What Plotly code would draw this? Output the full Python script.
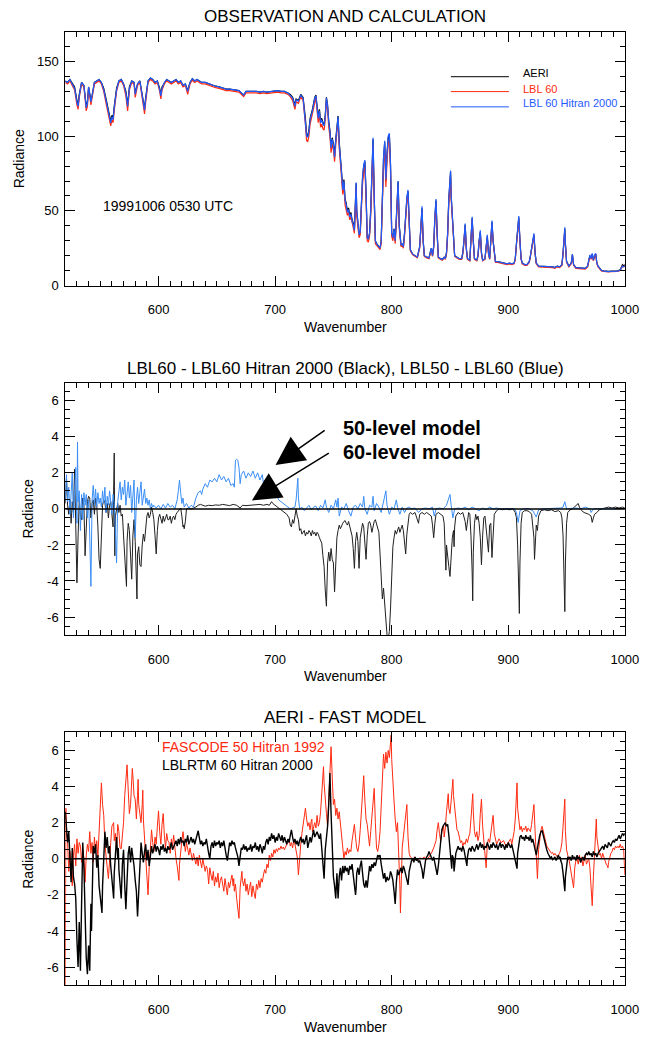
import plotly.graph_objects as go

# ---------------- Panel 1 : observation and calculation ----------------
P1_WN = [
    520, 522, 524, 526, 528, 530, 531, 532, 534, 536,
    538, 539, 540, 542, 543, 545, 547, 549, 551, 553,
    555, 557, 558, 559, 560, 561, 562, 564, 566, 568,
    570, 572, 573.5, 575, 577, 579, 580, 582, 584, 586,
    588, 589, 591, 593, 595, 597, 599, 601, 602, 603,
    605, 607, 609, 611, 613, 615, 617, 619, 621, 623,
    625, 627, 629, 631, 633, 635, 637, 640, 643, 646,
    649, 652, 655, 658, 661, 664, 667, 669, 671, 673,
    675, 678, 681, 684, 687, 690, 693, 696, 699, 702,
    705, 708, 711, 713, 715, 717, 718, 720, 722, 724,
    726, 727, 728, 729, 730, 732, 734, 735, 736, 737,
    738, 739, 740, 741, 742, 743, 744, 745, 746, 747,
    748, 749, 750, 751, 752, 753, 754, 755, 756, 757,
    758, 759, 760, 761, 762, 763, 764, 765, 766, 767,
    768, 769, 769.5, 770, 771, 772, 773, 774, 775, 776,
    777, 778, 779, 780, 781, 782, 783, 784, 785, 786,
    787, 788, 789, 790, 791, 792, 793, 794, 795, 796,
    797, 798, 799, 800, 801, 802, 803, 804, 805.5, 806.5,
    808, 809, 810, 811, 812, 813, 814, 815, 816, 818,
    820, 822, 824, 825, 826, 827, 828, 830, 832, 833,
    834, 835, 836, 837, 838, 839, 840, 842, 843.5, 845,
    846, 847, 848, 849, 850, 850.5, 851, 852, 853, 854,
    856, 858, 860, 861, 862, 863, 864, 865, 867, 868,
    869, 870, 871, 873, 874, 875, 876, 877, 878, 880,
    881, 882, 883, 884, 885, 886, 887, 888, 889, 891,
    893, 895, 897, 899, 901, 903, 905, 906, 907, 908,
    909, 910, 911, 912, 914, 916, 918, 919, 920, 921,
    922, 923, 924, 926, 928, 930, 932, 934, 936, 938,
    940, 942, 944, 946, 947, 948, 948.5, 949, 950, 952,
    954, 955, 956, 958, 960, 962, 964, 966, 968, 969,
    970, 971, 972, 973, 974, 975, 976, 977, 978, 980,
    982, 984, 986, 988, 990, 992, 994, 996, 997, 998,
    999, 1000,
]
P1_AERI = [
    137, 136, 138, 135, 133, 124, 121, 128, 136, 134,
    120, 123, 133, 124, 127, 136, 137, 138, 136, 132,
    125, 118, 113, 110, 114, 112, 120, 132, 137, 138,
    135, 130, 121, 133, 137, 136, 129, 135, 137, 128,
    118.5, 126, 137, 139, 138, 136, 137, 132, 127.8, 133,
    136, 138, 137, 136, 137, 138, 136, 137, 134, 135,
    130.7, 136, 138.5, 137, 138, 137, 136, 136, 135, 134,
    133.5, 133, 132, 131.5, 131.5, 131, 131, 130.5, 129, 127.5,
    130, 130, 130.5, 130, 129.5, 130, 129.5, 130, 130, 130.5,
    130, 130, 129, 128, 126, 121, 125, 124, 128, 126,
    112, 101, 100.5, 104, 112, 118, 126, 127.5, 120, 113,
    118, 110, 112, 109, 108, 114, 126, 121, 110, 104,
    93, 99, 95, 87, 98, 108, 113.6, 96, 82, 76,
    65, 71, 58, 55, 50, 52, 47, 49, 44, 42,
    38, 55, 68.5, 50, 40, 34, 36, 60, 72, 80,
    83, 62, 32, 31, 35, 50, 78, 98, 60, 30,
    28, 27, 26, 25, 30, 60, 85, 96, 70, 88,
    99, 101, 80, 35, 32, 38, 30, 45, 69.6, 40,
    27, 28, 26, 35, 50, 58, 63, 35, 24, 21,
    20, 19, 26, 38, 51.8, 30, 20, 19, 18.5, 22,
    25, 20, 26, 45, 57, 35, 19, 18, 17.5, 19,
    18, 22, 35, 58, 70, 76, 60, 44, 30, 20,
    19, 18, 18, 22, 30, 40.7, 25, 18, 17, 28,
    45, 30, 18, 17, 20, 30, 36, 22, 17, 18,
    25, 33, 22, 18, 30, 42.5, 30, 20, 16, 16,
    15.5, 15, 15, 14.5, 15, 14.5, 15, 18, 28, 38,
    45.6, 30, 18, 15, 14, 14, 16, 20, 25, 30,
    34, 22, 15, 13, 13, 12.5, 13, 12.5, 13, 12.5,
    12, 13, 12.5, 14, 22, 32, 38, 28, 16, 13,
    15, 20.7, 14, 12, 12, 11.5, 12, 11.5, 13, 16,
    20, 18, 21, 17, 20, 21, 15, 13, 12, 10,
    9.8, 9.5, 9.5, 9.6, 9.7, 9.5, 9.8, 10.5, 12, 14,
    13, 14,
]
P1_LBL60 = [
    136, 135, 137, 134, 131, 121, 118, 126, 135, 133,
    117, 120, 132, 121, 125, 135, 136, 137, 135, 130,
    122, 115, 110, 107, 111, 109, 117, 130, 136, 137,
    134, 127, 117, 131, 136, 135, 126, 134, 136, 125,
    115, 123, 136, 138, 137, 135, 136, 130, 125, 131,
    135, 137, 136, 135, 136, 137, 135, 136, 133, 134,
    128, 135, 137.5, 136, 137, 136, 135, 135, 134, 133,
    132.5, 132, 131, 130.5, 130.5, 130, 130, 129.5, 128, 126.5,
    129, 129, 129.5, 129, 128.5, 129, 128.5, 129, 129, 129.5,
    129, 129, 128, 126.5, 124, 118, 123, 122, 126.5, 124,
    108, 97, 96.5, 100, 108, 115, 124, 126, 117, 109,
    115, 106, 108, 105, 104, 111, 124, 118, 106, 100,
    89, 95, 91, 83, 94, 104, 111, 92, 78, 72,
    61, 67, 54, 51, 47, 49, 44, 46, 41, 39,
    35, 52, 65, 47, 38, 32, 34, 56, 68, 76,
    79, 58, 30, 29, 33, 47, 74, 94, 56, 28,
    27, 26, 25, 24, 28, 56, 81, 92, 66, 84,
    95, 97, 76, 33, 30, 36, 28, 43, 66, 38,
    26, 27, 25, 33, 48, 56, 60, 33, 23, 20.5,
    19.5, 18.5, 25, 37, 50, 29, 19.5, 18.5, 18, 21,
    24, 19.5, 25, 43, 55, 34, 18.5, 17.5, 17, 18.5,
    17.5, 21, 34, 56, 68, 73, 58, 43, 29, 19.5,
    18.5, 17.5, 17.5, 21, 29, 39.5, 24, 17.5, 16.5, 27,
    44, 29, 17.5, 16.5, 19.5, 29, 35, 21, 16.5, 17.5,
    24, 32, 21, 17.5, 29, 41, 29, 19.5, 15.5, 15.5,
    15, 14.5, 14.5, 14, 14.5, 14, 14.5, 17.5, 27, 37,
    44, 29, 17.5, 14.5, 13.5, 13.5, 15.5, 19.5, 24, 29,
    33, 21, 14.5, 12.5, 12.5, 12, 12.5, 12, 12.5, 12,
    11.5, 12.5, 12, 13.5, 21, 31, 36.5, 27, 15.5, 12.5,
    14.5, 20, 13.5, 11.5, 11.5, 11, 11.5, 11, 12.5, 15.5,
    19.5, 17.5, 20.5, 16.5, 19.5, 20.5, 14.5, 12.5, 11.5, 9.8,
    9.5, 9.2, 9.2, 9.3, 9.4, 9.2, 9.5, 10.2, 11.5, 13,
    12.5, 13,
]
P1_H2000 = [
    137, 136, 138, 135, 132, 123, 120, 127, 136, 134,
    119, 122, 133, 123, 127, 136, 137, 138, 136, 131,
    124, 117, 112, 109, 113, 111, 119, 131, 137, 138,
    135, 129, 120, 132, 137, 136, 128, 135, 137, 127,
    117.5, 125, 137, 139, 138, 136, 137, 131, 127, 132,
    136, 138, 137, 136, 137, 138, 136, 137, 134, 135,
    130, 136, 138.5, 137, 138, 137, 136, 136, 135, 134,
    133.5, 133, 132, 131.5, 131.5, 131, 131, 130.5, 129, 127.5,
    130, 130, 130.5, 130, 129.5, 130, 129.5, 130, 130, 130.5,
    130, 130, 129, 127.5, 125.5, 120, 124.5, 123.5, 127.5, 125.5,
    111, 100, 99.5, 103, 111, 117, 125.5, 127, 119, 112,
    117, 109, 111, 108, 107, 113, 125.5, 120, 109, 103,
    92, 98, 94, 86, 97, 107, 113, 95, 81, 75,
    64, 70, 57, 54, 49, 51, 46, 48, 43, 41,
    37, 56, 69, 51, 40, 34, 36, 61, 73, 81,
    84, 63, 32, 31, 35, 51, 79, 99, 61, 30,
    28, 27, 26, 25, 30, 61, 86, 97, 71, 89,
    100, 102, 81, 35, 32, 38, 30, 46, 70, 40,
    27, 28, 26, 35, 51, 59, 64, 35, 24, 21,
    20, 19, 26, 39, 53, 30, 20, 19, 18.5, 22,
    25, 20, 26, 46, 58, 35, 19, 18, 17.5, 19,
    18, 22, 35, 59, 71, 77, 61, 45, 30, 20,
    19, 18, 18, 22, 30, 41.5, 25, 18, 17, 28,
    46, 30, 18, 17, 20, 30, 37, 22, 17, 18,
    25, 34, 22, 18, 30, 43.5, 30, 20, 16, 16,
    15.5, 15, 15, 14.5, 15, 14.5, 15, 18, 28, 39,
    46.5, 30, 18, 15, 14, 14, 16, 20, 25, 30,
    35, 22, 15, 13, 13, 12.5, 13, 12.5, 13, 12.5,
    12, 13, 12.5, 14, 22, 33, 39, 28, 16, 13,
    15, 21, 14, 12, 12, 11.5, 12, 11.5, 13, 16,
    20.5, 18, 21.5, 17, 20.5, 21.5, 15, 13, 12, 10,
    9.6, 9.3, 9.3, 9.4, 9.5, 9.3, 9.6, 10.3, 11.5, 13,
    12.5, 13,
]

# ---------------- Panel 2 : model differences (wavenumber, radiance) ----------------
P2_H2000_DIFF = [
    (520, 0.3), (521, 1.7), (522, 0.2), (523, -0.3), (524, 0.5), (525, -0.8), (526, 0.4), (527, -0.2),
    (528, 2.2), (529, -2.1), (530, -4.1), (531, -1.5), (532, 0.5), (533, -0.4), (534, -0.6), (535, 0.6),
    (536, 0.2), (537, -2.6), (538, -1.2), (539, 0.4), (540, 0.7), (541, 0.6), (542, -0.5), (543, 0.3),
    (544, 0.5), (545, -0.3), (546, 0.6), (547, 0.2), (548, -1.0), (549, -2.8), (550, -3.3), (551, -1.5),
    (552, 0.2), (553, 0.5), (554, 0.35), (555, -0.2), (556, 0.3), (557, -0.5), (558, 0.2), (559, 0.4),
    (560, -0.3), (561, -1.0), (562, 3.1), (562.5, -2.6), (563, -0.4), (564, 0.1), (565, 0.3), (566, -0.2),
    (567, 0.2), (568, -0.4), (569, -0.3), (570, -1.5), (571, -2.5), (572.5, -4.3), (573, -1.8), (574, -0.8),
    (575, -1.2), (576, -2.4), (577, -3.9), (578, -1.5), (579, -0.6), (580, -1.8), (581.5, -5.0), (582, -2.5),
    (583, -2.1), (584, -3.1), (585, -3.2), (586, -2.0), (587, -1.4), (588, -1.8), (589, -0.8), (590, -0.4),
    (591, -0.2), (592, -0.5), (593, -0.3), (594, 0.1), (595, -0.2), (596, -0.6), (597, -1.5), (598, -2.5),
    (599, -1.2), (600, -0.5), (601, -0.3), (602, -0.6), (603, -0.8), (604, -0.4), (605, -0.7), (606, -0.5),
    (607, -0.3), (608, -0.6), (609, -0.6), (610, -0.4), (611, -0.8), (612, -0.5), (613, -0.4), (614, -0.6),
    (615, -0.3), (616, -0.2), (617, -0.1), (618, 0.0), (619, 0.05), (620, -0.4), (621, -1.0), (621.5, -0.9),
    (622, -1.1), (623, -0.7), (624, 0.0), (626, 0.05), (628, 0.0), (630, 0.05), (632, 0.1), (634, 0.2),
    (636, 0.25), (638, 0.2), (640, 0.15), (643, 0.2), (646, 0.18), (649, 0.22), (652, 0.2), (655, 0.25),
    (658, 0.2), (661, 0.18), (664, 0.25), (667, 0.2), (670, 0.05), (672, 0.2), (675, 0.18), (678, 0.2),
    (681, 0.22), (684, 0.2), (687, 0.25), (690, 0.2), (693, 0.25), (695, 0.2), (697, 0.4), (698, 0.3),
    (700, 0.2), (702, 0.1), (704, 0.0), (706, -0.1), (708, -0.2), (710, -0.3), (712, -0.5), (713, -0.9),
    (714, -1.0), (715, -0.6), (716, -0.8), (717, -0.3), (718, 0.0), (719, -0.4), (720, -0.6), (721, -1.2),
    (722, -1.1), (723, -1.4), (724, -1.3), (725, -1.2), (726, -1.5), (727, -1.3), (728, -1.4), (729, -1.2),
    (730, -1.3), (731, -1.5), (732, -1.2), (733, -1.4), (734, -1.3), (735, -1.5), (736, -1.3), (737, -1.4),
    (738, -1.6), (739, -1.75), (740, -1.9), (741, -2.6), (742, -3.2), (743, -4.5), (744, -5.4), (745, -3.0),
    (746, -2.4), (747, -2.9), (748, -2.2), (749, -2.8), (750, -3.0), (751, -4.6), (752, -2.6), (753, -1.6),
    (754, -1.2), (755, -0.9), (756, -1.1), (757, -0.9), (758, -0.8), (759, -0.7), (760, -0.65), (761, -0.8),
    (762, -0.9), (763, -0.7), (764, -1.0), (765, -1.2), (766, -1.5), (767, -2.2), (768, -3.3), (769, -1.8),
    (770, -1.3), (771, -1.8), (772, -3.3), (773, -1.6), (774, -1.1), (775, -0.8), (776, -1.0), (777, -1.7),
    (778, -2.8), (779, -1.5), (780, -0.8), (781, -0.7), (782, -0.9), (783, -1.3), (784, -1.0), (785, -0.7),
    (786, -0.6), (787, -0.8), (788, -1.0), (789, -1.3), (790, -2.5), (791, -3.8), (792, -5.0), (793, -4.4),
    (794, -5.5), (795, -6.2), (796, -7.0), (797, -7.2), (798, -6.8), (799, -5.5), (800, -3.5), (801, -2.1),
    (802, -1.6), (803, -1.2), (804, -1.4), (805, -1.2), (806, -1.0), (807, -1.3), (808, -1.1), (809, -0.9),
    (810, -1.2), (811, -1.8), (812, -2.5), (813, -1.4), (814, -0.6), (815, -0.3), (816, -0.2), (818, -0.3),
    (820, -0.2), (821, -0.4), (822, -0.7), (823, -0.8), (824, -0.3), (826, -0.2), (828, -0.3), (830, -0.2),
    (832, -0.3), (834, -0.4), (835, -0.9), (836, -1.6), (837, -0.8), (838, -0.3), (840, -0.2), (842, -0.3),
    (844, -0.4), (845, -0.8), (846, -2.2), (846.5, -3.4), (847, -2.0), (848, -2.8), (849, -3.2), (850, -3.75),
    (851, -2.4), (852, -1.6), (853, -1.2), (853.5, -2.1), (854, -1.0), (855, -0.4), (857, -0.2), (859, -0.3),
    (861, -0.2), (862, -0.4), (863, -0.7), (864, -1.2), (865, -0.5), (866, -0.2), (867, -0.3), (868, -1.5),
    (869, -3.5), (869.5, -5.1), (870, -2.4), (871, -0.8), (872, -0.3), (873, -0.6), (874, -0.4), (875, -0.8),
    (876, -1.6), (877, -3.1), (878, -1.5), (879, -0.5), (880, -0.4), (881, -1.0), (882, -1.5), (883, -2.4),
    (884, -0.9), (885, -0.8), (886, -2.7), (887, -1.2), (888, -0.3), (890, -0.1), (892, 0.0), (895, -0.05),
    (898, 0.0), (901, -0.05), (904, 0.0), (906, -0.2), (907, -0.5), (908, -2.0), (909, -4.0), (909.5, -5.8),
    (910, -3.0), (911, -0.8), (912, -0.2), (914, -0.1), (916, -0.1), (918, -0.15), (920, -0.3), (921, -0.8),
    (922, -1.6), (922.5, -2.8), (923, -1.8), (924, -0.9), (925, -1.2), (926, -0.4), (928, -0.1), (931, -0.05),
    (934, -0.1), (937, -0.05), (940, -0.15), (943, -0.1), (945, -0.2), (946, -0.5), (947, -1.5), (948, -3.5),
    (948.5, -5.7), (949, -3.0), (950, -0.8), (951, -0.2), (953, -0.05), (955, 0.0), (957, 0.1), (959, 0.2),
    (960, 0.3), (961, 0.1), (963, -0.1), (965, -0.2), (967, -0.25), (969, -0.3), (971, -0.4), (972, -0.75),
    (973, -0.5), (974, -0.3), (976, -0.2), (978, -0.05), (980, 0.0), (983, 0.05), (986, 0.1), (989, 0.05),
    (992, 0.1), (995, 0.05), (998, 0.1), (1000, 0.05),
]
P2_LEVEL_DIFF = [
    (520, 0.5), (521, 1.9), (522, 0.4), (523, 1.2), (524, -0.3), (525, 0.8), (526, 2.0), (527, -0.5),
    (528, 1.0), (529, 2.3), (530, -0.8), (530.5, 3.7), (531, 0.4), (532, 1.0), (533, -1.2), (534, 0.8),
    (535, -0.6), (536, 0.9), (537, 0.2), (538, 0.8), (539, -0.5), (540, 0.5), (541, -1.5), (542, -4.3),
    (543, 0.5), (544, 1.3), (545, 0.2), (546, 1.1), (547, 0.1), (548, 0.9), (549, 0.3), (550, 0.6),
    (551, 0.1), (552, 1.0), (553, 0.3), (554, 1.2), (555, -0.2), (556, 0.7), (557, 0.2), (558, 1.0),
    (559, 0.4), (560, -0.3), (561, 0.8), (562, 0.3), (563, -1.2), (564, -3.0), (565, 0.4), (566, 1.0),
    (567, 1.5), (568, 0.5), (569, 1.2), (570, 0.8), (571, 1.6), (572, 0.2), (573, 1.0), (574, 1.5),
    (575, 0.6), (576, 1.3), (577, -0.2), (578, 0.8), (579, 1.6), (580, -1.6), (581, 0.5), (582, 1.2),
    (583, 0.3), (584, 0.9), (585, 1.5), (586, 0.2), (587, 0.8), (588, 1.1), (589, 0.3), (590, 0.6),
    (591, 0.2), (592, 0.5), (593, 0.0), (594, 0.3), (595, 0.1), (596, 0.2), (598, 0.05), (600, 0.2),
    (602, 0.0), (604, 0.25), (606, 0.05), (608, 0.3), (610, 0.1), (612, 0.2), (614, 0.0), (616, 0.5),
    (617, 1.0), (618, 1.6), (619, 0.9), (620, 0.3), (621, 0.6), (622, 0.1), (624, 0.3), (626, 0.05),
    (628, 0.2), (630, 0.1), (632, 0.6), (634, 0.9), (636, 1.0), (637, 0.8), (638, 1.1), (640, 1.4),
    (642, 1.2), (644, 1.6), (646, 1.5), (648, 1.7), (650, 1.5), (652, 1.9), (654, 1.6), (656, 1.8),
    (658, 1.5), (660, 1.7), (662, 1.3), (664, 1.4), (665, 1.2), (666, 2.7), (667, 2.75), (668, 2.7),
    (669, 2.3), (670, 1.4), (671, 1.9), (673, 2.1), (675, 1.7), (677, 2.0), (679, 1.8), (681, 2.1),
    (683, 1.7), (685, 2.0), (687, 1.6), (689, 1.9), (690, 1.4), (691, 1.6), (692, 1.0), (694, 1.1),
    (696, 0.8), (698, 0.9), (700, 0.6), (702, 0.7), (703, 0.5), (705, 0.4), (707, 0.3), (709, 0.15),
    (711, 0.1), (713, 0.0), (715, 0.05), (717, 0.1), (718, 0.5), (719, 1.2), (719.5, 1.7), (720, 0.6),
    (721, 0.0), (723, 0.1), (725, -0.1), (727, 0.05), (729, 0.2), (731, -0.05), (733, 0.1), (735, 0.15),
    (737, -0.1), (739, 0.2), (741, 0.05), (743, 0.5), (744, 0.1), (746, -0.2), (748, 0.2), (750, 0.0),
    (752, 0.5), (753, 0.1), (754, 0.6), (755, -0.4), (757, 0.1), (759, 0.0), (761, 0.3), (763, -0.1),
    (765, -0.4), (767, 0.1), (769, 0.2), (771, 0.0), (773, 0.3), (775, 0.1), (776, 0.7), (777, 0.0),
    (779, -0.3), (781, 0.2), (783, 0.1), (784, 0.7), (785, -0.1), (787, 0.3), (789, 0.1), (791, -0.2),
    (793, 0.4), (795, 1.0), (796, 0.2), (798, -0.3), (800, 0.1), (802, 0.0), (804, 0.5), (805, 0.1),
    (807, -0.3), (809, 0.1), (811, -0.2), (813, 0.05), (815, 0.1), (817, 0.0), (820, 0.05), (823, -0.2),
    (826, 0.0), (829, 0.05), (832, 0.0), (835, 0.1), (836.5, -0.4), (838, 0.0), (841, 0.05), (844, 0.0),
    (847, 0.2), (850, 0.8), (851, 0.2), (852.5, -0.5), (854, 0.0), (857, 0.05), (860, 0.0), (863, 0.1),
    (866, -0.05), (869, 0.1), (872, 0.0), (875, -0.1), (878, 0.05), (881, -0.05), (884, 0.1), (887, 0.0),
    (890, 0.05), (893, 0.0), (897, 0.02), (901, 0.0), (905, 0.02), (907, -0.2), (908.5, -0.75), (910, -0.1),
    (913, 0.0), (917, 0.02), (921, -0.1), (924, -0.45), (926, -0.05), (930, 0.0), (935, 0.02), (940, 0.0),
    (945, 0.05), (947, 0.1), (948.5, 0.4), (950, 0.0), (954, 0.02), (958, 0.05), (962, 0.0), (966, 0.1),
    (970, 0.0), (971, -0.2), (973, 0.0), (977, 0.02), (982, 0.0), (988, 0.02), (994, 0.0), (1000, 0.02),
]

# ---------------- Panel 3 : AERI minus fast model (wavenumber, radiance) ----------------
P3_FASCODE = [
    (520, -7.5), (520.5, 2.8), (521, 1.5), (522, 0.9), (523, -0.7), (524, 0.4), (525, -0.3), (526, -1.5),
    (527, 0.2), (528, 0.8), (529, -0.4), (530, 1.1), (531, 0.3), (532, 0.9), (533, 0.7), (534, -0.2),
    (535, 0.5), (536, 0.0), (537, -1.3), (538, 0.2), (539, 0.8), (540, 0.4), (541, 1.5), (542, 0.3),
    (543, 0.9), (544, -0.2), (545, 1.2), (546, 0.4), (547, 1.0), (548, 0.1), (549, 1.6), (550, 2.6),
    (551, 4.2), (552, 3.0), (553, 2.4), (554, 0.8), (555, 0.3), (556, -0.5), (557, -1.1), (558, 0.2),
    (559, 0.9), (560, 1.8), (561.5, 2.0), (562, 1.0), (563, 1.4), (564, 0.5), (565, 1.9), (566, 1.5),
    (567, 0.6), (568, 0.55), (569, 1.2), (570, 2.0), (571, 3.5), (572, 4.5), (573, 5.2), (574, 3.8),
    (575, 2.5), (576, 3.0), (577, 4.2), (577.5, 5.0), (578, 4.6), (579, 3.5), (580, 3.3), (581, 2.2),
    (582, 3.5), (582.5, 4.4), (583, 3.0), (584, 2.5), (585, 2.0), (586, 3.0), (586.5, 3.8), (587, 2.2),
    (588, 1.2), (589, -0.4), (590, -1.2), (591, -2.0), (592, -0.5), (593, 0.6), (594, 1.6), (595, 0.9),
    (596, 0.4), (597, 1.2), (598, 0.8), (599, 1.8), (600, 2.65), (601, 1.5), (602, 0.8), (603, 1.9),
    (604, 2.5), (605, 1.3), (606, 0.6), (607, 1.4), (608, 1.0), (609, 0.9), (610, 0.3), (611, 1.1),
    (612, 0.7), (613, 1.3), (614, 0.4), (615, 0.0), (616, -0.4), (617, -0.8), (617.5, -1.2), (618, -0.3),
    (619, 0.6), (620, 1.0), (621, 1.5), (622, 0.8), (623, 0.4), (624, 0.9), (625, 0.5), (626, 0.2),
    (627, 0.6), (628, 0.2), (629, -0.1), (630, 0.3), (631, 0.0), (632, -0.3), (633, 0.1), (634, -0.4),
    (635, 0.2), (636, -0.2), (637, -0.5), (638, 0.0), (639, -0.3), (640, -0.7), (641, -0.4), (642, -0.6),
    (643, -1.4), (644, -0.5), (645, -0.9), (646, -1.2), (647, -0.7), (648, -1.5), (649, -1.0), (650, -1.3),
    (651, -0.8), (652, -1.6), (653, -1.2), (654, -1.0), (655, -1.4), (656, -1.8), (657, -1.1), (658, -1.5),
    (659, -2.0), (660, -1.3), (661, -1.6), (662, -1.2), (663, -0.9), (664, -1.5), (664.5, -1.1), (665, -1.8),
    (666, -1.4), (667, -2.2), (668, -2.8), (669, -3.3), (670, -1.6), (671, -1.0), (671.5, -0.7), (672, -1.2),
    (673, -1.5), (674, -1.1), (675, -1.8), (676, -1.4), (677, -2.0), (678, -1.6), (679, -1.3), (680, -2.1),
    (681, -1.5), (682, -1.9), (683, -2.2), (684, -1.4), (685, -1.7), (686, -1.2), (687, -1.6), (688, -1.1),
    (689, -1.3), (690, -0.9), (691, -0.6), (692, -0.8), (693, -0.3), (694, -0.5), (695, 0.2), (696, -0.1),
    (697, 0.3), (698, 0.1), (699, 0.5), (700, 0.3), (701, 0.55), (702, 0.4), (703, 0.6), (704, 0.5),
    (705, 0.7), (706, 0.55), (707, 0.65), (708, 0.5), (709, 0.7), (710, 0.8), (711, 0.9), (712, 1.1),
    (713, 0.7), (714, 0.9), (715, 0.6), (716, 1.0), (717, 0.8), (718, 0.4), (719, 0.1), (720, -0.9),
    (721, 0.2), (722, 0.8), (723, 1.4), (724, 1.9), (725, 2.4), (726, 2.8), (727, 2.2), (728, 1.8),
    (729, 2.0), (730, 1.6), (731, 2.1), (731.5, 2.2), (732, 1.5), (733, 1.8), (734, 2.0), (735, 1.7),
    (736, 2.4), (737, 1.8), (738, 2.0), (739, 2.6), (740, 3.8), (741, 4.7), (741.5, 5.1), (742, 4.2),
    (743, 3.0), (744, 2.5), (745, 1.8), (746, 3.5), (747, 5.5), (748, 6.2), (749, 4.5), (750, 3.0),
    (751, 3.3), (752, 2.4), (753, 2.8), (754, 2.2), (755, 2.6), (756, 2.0), (757, 1.2), (758, 0.5),
    (759, 0.0), (760, 0.4), (761, 0.2), (762, 0.6), (763, 0.3), (764, 0.5), (765, 0.4), (766, 1.0),
    (767, 1.5), (768, 1.9), (769, 1.2), (770, 0.6), (771, 0.4), (772, 0.8), (773, 1.6), (774, 2.5),
    (775, 3.6), (776, 4.6), (777, 3.2), (778, 2.2), (779, 1.9), (780, 1.2), (781, 0.7), (782, 1.5),
    (783, 2.3), (784, 3.2), (785, 3.9), (786, 2.0), (787, 0.6), (788, 0.4), (789, 0.8), (790, 1.5),
    (791, 2.8), (792, 4.2), (793, 5.8), (794, 5.0), (795, 5.9), (796, 5.3), (797, 6.0), (798, 5.6),
    (799, 6.4), (799.5, 6.85), (800, 5.5), (801, 4.0), (802, 3.2), (803, 2.2), (804, 1.5), (805, 2.0),
    (806, 0.5), (807, -1.5), (807.5, -3.0), (808, -1.0), (809, 0.6), (810, 1.2), (811, 1.8), (812, 2.5),
    (813, 3.0), (814, 1.2), (815, 0.3), (816, 0.1), (818, 0.0), (820, 0.1), (822, -0.1), (824, 0.05),
    (826, 0.0), (828, 0.1), (830, -0.05), (832, 0.1), (834, 0.3), (836, 0.6), (838, 1.0), (839, 1.6),
    (840, 2.0), (841, 1.4), (842, 1.0), (843, 1.5), (844.5, 1.8), (845, 1.2), (846, 1.7), (847, 2.6),
    (848, 3.2), (848.5, 3.6), (849, 2.8), (850, 2.5), (851, 3.2), (852, 3.9), (852.5, 4.4), (853, 3.5),
    (854, 2.8), (855, 2.2), (856, 1.6), (857, 1.5), (858, 1.2), (859, 0.9), (860, 1.0), (861, 0.7),
    (862, 0.9), (863, 0.8), (864, 1.1), (865, 0.9), (866, 1.2), (867, 1.4), (868, 2.2), (869, 3.0),
    (869.5, 3.6), (870, 2.6), (871, 1.5), (872, 1.2), (873, 1.5), (874, 1.0), (875, 1.3), (876, 2.5),
    (877, 3.3), (878, 1.8), (879, 1.0), (880, 0.2), (881, -0.5), (882, 0.8), (883, 1.1), (884, 0.9),
    (885, 1.4), (886, 1.8), (887, 2.4), (888, 1.4), (889, 1.0), (890, 0.8), (892, 1.1), (894, 0.9),
    (896, 1.0), (898, 0.7), (900, 0.9), (902, 1.1), (903, 0.8), (904, 1.2), (905, 1.5), (906, 2.2),
    (907, 3.3), (907.5, 4.2), (908, 2.8), (909, 2.0), (910, 1.6), (911, 1.8), (912, 1.5), (913, 1.7),
    (914, 1.6), (915, 1.8), (916, 1.5), (917, 1.7), (918, 1.6), (919, 1.5), (920, 1.9), (921, 2.5),
    (922, 3.0), (923, 1.5), (924, 0.2), (925, -1.1), (926, 0.5), (927, 1.2), (928, 1.6), (929, 1.8),
    (930, 1.5), (931, 1.2), (932, 0.9), (933, 0.7), (934, 0.6), (935, 0.5), (936, 0.4), (937, 0.3),
    (938, 0.35), (939, 0.2), (940, 0.3), (941, 0.2), (942, 0.1), (943, 0.2), (944, 0.3), (945, 0.5),
    (946, 0.9), (947, 1.8), (948, 2.6), (948.5, 3.3), (949, 1.5), (950, 0.5), (951, 0.2), (952, 0.0),
    (953, -0.4), (954, -0.8), (955, -1.2), (956, -1.6), (957, -0.5), (958, -0.1), (959, 0.0), (960, -0.3),
    (961, 0.2), (962, -0.2), (963, 0.1), (964, -0.4), (965, -0.1), (966, 0.2), (967, -0.3), (968, -0.1),
    (969, 0.0), (970, -0.5), (971, -1.5), (972, -2.6), (973, -1.0), (974, 0.5), (975, 1.5), (975.5, 2.2),
    (976, 1.2), (977, 0.5), (978, 0.2), (979, 0.3), (980, 0.0), (981, 0.3), (982, 0.1), (983, -0.2),
    (984, -0.3), (985, -0.4), (985.5, -0.5), (986, -0.2), (987, 0.1), (988, 0.3), (989, 0.4), (990, 0.6),
    (991, 0.5), (992, 0.7), (993, 0.6), (994, 0.7), (995, 0.6), (996, 0.8), (997, 0.6), (998, 0.7),
    (999, 0.5), (1000, -0.9),
]
P3_LBLRTM = [
    (520, 2.6), (521, 1.8), (522, 0.9), (523, 1.5), (524, -0.5), (525, -1.3), (526, 0.6), (527, -1.0),
    (528, -1.4), (529, -2.2), (530, -4.5), (531, -6.0), (532, -3.5), (533, -6.2), (534, -2.5), (535, 0.9),
    (536, -0.5), (537, -3.7), (538, -5.5), (539, -6.4), (540, -4.8), (541, -6.2), (542, -2.5), (542.5, -4.0),
    (543, -1.5), (544, 0.7), (545, 0.3), (546, 0.8), (547, -0.5), (548, 0.2), (549, -1.5), (550, -2.2),
    (551.5, -3.0), (552, -1.5), (553, 0.4), (554, 1.5), (555, 0.6), (556, 1.2), (557, 0.3), (558, 0.7),
    (559, -0.4), (560, -1.0), (561.5, -2.2), (562, -0.8), (563, 0.5), (564, 1.2), (565, 0.0), (565.5, 0.6),
    (566, -0.6), (567, -1.4), (568, -2.2), (569, -0.3), (570, 0.5), (571, -1.5), (572, -2.8), (573, -1.2),
    (574, 0.3), (575, 0.7), (576, -0.2), (577, 0.6), (578, 0.2), (579, -0.4), (580, -1.2), (581, -1.8),
    (582, -3.2), (583, -1.5), (584, 0.2), (585, 0.9), (586, 0.3), (587, -0.2), (588, 0.4), (589, 0.8),
    (590, -0.1), (591, 0.5), (592, -0.4), (593, 0.2), (594, 0.7), (595, 0.3), (596, 0.6), (597, 0.8),
    (598, 0.4), (599, 0.7), (600, 0.5), (601, 0.2), (602, 0.7), (603, 0.5), (604, 0.8), (605, 0.4),
    (606, 0.6), (607, 0.3), (608, 0.7), (609, 0.5), (610, 0.6), (611, 0.9), (612, 0.5), (613, 0.7),
    (614, 0.8), (615, 1.0), (616, 0.7), (617, 1.1), (618, 0.8), (619, 1.2), (620, 0.9), (621, 1.0),
    (622, 0.7), (623, 1.1), (624, 0.9), (625, 1.3), (626, 0.8), (627, 1.0), (628, 1.2), (629, 0.9),
    (630, 1.1), (631, 0.8), (632, 1.0), (633, 1.3), (634, 1.55), (635, 1.0), (636, 0.8), (637, 1.0),
    (638, 0.7), (639, 0.9), (640, 0.8), (641, 1.1), (642, 0.6), (643, 0.3), (644, 0.0), (645, 0.7),
    (646, 0.9), (647, 0.6), (648, 1.0), (649, 0.7), (650, 0.9), (651, 0.8), (652, 1.0), (653, 0.6),
    (654, 0.9), (655, 0.7), (656, 1.0), (657, 0.5), (658, 0.2), (659, -0.1), (660, 0.6), (661, 0.9),
    (662, 0.7), (663, 1.0), (664, 0.8), (665, 0.9), (666, 0.6), (667, 0.4), (668, 0.1), (669, -0.4),
    (670, 0.3), (671, 0.6), (672, 0.5), (673, 0.8), (674, 0.5), (675, 0.7), (676, 0.4), (677, 0.6),
    (678, 0.5), (679, 0.8), (680, 0.4), (681, 0.7), (682, 0.6), (683, 0.9), (684, 0.5), (685, 0.7),
    (686, 0.4), (687, 0.8), (688, 0.6), (689, 0.3), (690, 0.7), (691, 0.5), (692, 0.9), (693, 1.1),
    (694, 0.8), (695, 1.2), (696, 1.0), (697, 1.4), (698, 1.1), (699, 1.3), (700, 0.9), (701, 1.2),
    (702, 1.0), (703, 1.4), (704, 1.2), (705, 1.0), (706, 1.3), (707, 0.9), (708, 1.2), (709, 1.0),
    (710, 0.8), (711, 1.1), (712, 0.9), (713, 1.3), (714, 1.6), (715, 1.2), (716, 0.9), (717, 1.1),
    (718, 0.8), (719, 1.0), (720, 0.7), (721, 1.0), (722, 1.2), (723, 0.9), (724, 1.1), (725, 0.8),
    (726, 1.0), (727, 1.3), (728, 0.6), (729, 1.0), (730, 1.2), (731, 0.9), (732, 1.3), (733, 1.6),
    (734, 1.2), (735, 1.4), (736, 1.5), (737, 1.3), (738, 1.1), (739, 1.4), (740, 0.6), (741, 0.0),
    (742, -1.1), (743, 0.5), (744, 1.2), (745, 1.8), (746, 3.0), (747, 4.75), (748, 2.5), (749, 0.5),
    (750, -1.0), (751, -1.5), (752, -2.2), (753, -0.8), (754, -2.2), (755, -1.0), (756, -0.5), (757, -1.2),
    (758, -0.4), (759, -0.8), (760, -0.4), (761, -0.7), (762, -0.5), (763, -0.9), (764, -0.4), (765, -0.6),
    (766, -0.3), (767, -0.9), (768, -1.4), (769, -2.0), (769.5, -1.6), (770, -0.8), (771, -0.5), (772, -0.9),
    (773, -0.4), (774, -0.1), (775, -0.8), (776, -1.4), (777, -1.6), (778, -1.2), (779, -1.6), (780, -0.9),
    (781, -0.4), (782, -0.7), (783, -0.3), (784, -0.5), (785, -0.2), (786, -0.4), (787, 0.0), (788, 0.2),
    (789, 0.1), (790, 0.2), (791, -0.3), (792, -0.7), (793, -1.1), (794, -0.8), (795, -1.3), (796, -1.0),
    (797, -1.2), (798, -1.1), (799, -0.7), (800, -0.9), (801, -1.2), (802, -1.8), (803, -2.5), (804, -1.3),
    (805, -0.6), (806, -0.9), (807, -0.7), (808, -0.5), (809, -0.8), (810, -0.4), (811, -0.6), (812, -0.9),
    (813, -1.2), (814, -1.45), (815, -0.7), (816, -0.3), (817, -0.1), (818, 0.0), (819, -0.2), (820, 0.1),
    (821, -0.1), (822, 0.0), (823, -0.2), (824, -0.1), (825, -0.3), (826, -0.6), (827, -1.1), (828, -0.5),
    (829, -0.1), (830, 0.1), (831, 0.2), (832, 0.4), (833, 0.2), (834, 0.0), (835, -0.1), (836, 0.1),
    (837, -0.2), (838, -0.5), (839, -0.9), (840, -0.4), (841, 0.3), (842, 0.9), (843, 1.6), (844, 1.8),
    (845, 1.9), (846, 2.0), (847, 1.8), (848, 1.9), (849, 1.3), (850, 0.4), (851, -0.3), (851.5, -0.55),
    (852, 0.2), (853, 0.0), (853.5, -0.7), (854, -0.2), (855, 0.3), (856, 0.5), (857, 0.7), (858, 0.5),
    (859, 0.6), (860, 0.4), (861, 0.7), (862, 0.5), (863, 0.2), (864, -0.2), (864.5, -0.4), (865, 0.1),
    (866, 0.5), (867, 0.6), (868, 0.4), (869, 0.7), (870, 0.5), (871, 0.4), (872, 0.6), (873, 0.8),
    (874, 0.5), (875, 0.7), (876, 0.9), (877, 0.6), (878, 0.8), (879, 0.5), (880, 0.7), (881, 0.6),
    (882, 0.9), (883, 0.7), (884, 0.5), (885, 0.8), (886, 0.6), (887, 0.9), (888, 0.7), (889, 0.6),
    (890, 0.8), (891, 0.5), (892, 0.7), (893, 0.9), (894, 0.6), (895, 0.8), (896, 0.7), (897, 0.5),
    (898, 0.8), (899, 0.6), (900, 0.9), (901, 0.7), (902, 0.6), (903, 0.8), (904, 0.5), (905, 0.2),
    (906, -0.2), (907, -0.4), (907.5, -0.55), (908, 0.3), (909, 0.9), (910, 1.2), (911, 1.3), (912, 1.1),
    (913, 1.2), (914, 1.0), (915, 1.3), (916, 1.1), (917, 1.2), (918, 1.0), (919, 1.3), (920, 0.9),
    (921, 1.1), (922, 0.8), (923, 0.5), (924, 0.2), (925, 0.6), (926, 1.0), (927, 1.3), (928, 1.5),
    (929, 1.55), (930, 1.3), (931, 1.0), (932, 0.8), (933, 0.5), (934, 0.3), (935, 0.2), (936, 0.05),
    (937, 0.1), (938, -0.05), (939, 0.0), (940, 0.1), (941, -0.1), (942, 0.05), (943, 0.2), (944, 0.0),
    (944.5, 0.1), (945, -0.1), (946, -0.3), (947, -0.8), (948, -1.4), (948.5, -1.8), (949, -1.0), (950, -0.2),
    (951, 0.1), (952, 0.0), (953, 0.1), (954, -0.1), (955, 0.2), (956, 0.0), (957, 0.1), (958, -0.1),
    (959, 0.2), (960, 0.0), (961, 0.1), (962, -0.2), (963, 0.0), (964, 0.1), (965, -0.1), (966, 0.2),
    (967, 0.3), (968, 0.2), (969, 0.4), (970, 0.2), (971, 0.3), (972, 0.1), (973, 0.4), (974, 0.2),
    (975, 0.3), (976, 0.1), (977, 0.3), (978, 0.4), (979, 0.5), (980, 0.6), (981, 0.7), (982, 0.5),
    (983, 0.8), (984, 0.7), (985, 0.6), (986, 0.9), (987, 0.8), (988, 0.7), (989, 0.9), (990, 1.0),
    (991, 0.9), (992, 1.1), (993, 1.0), (994, 1.2), (995, 1.3), (996, 1.1), (997, 1.3), (998, 1.4),
    (999, 1.3), (1000, 1.4),
]

# ---------------- tick labels ----------------
Y_DIFF_TICKS = [-6, -4, -2, 0, 2, 4, 6]
Y_DIFF_TEXT = ['-6', '-4', '-2', '0', '2', '4', '6']

assert len(P1_WN) == len(P1_AERI) == len(P1_LBL60) == len(P1_H2000)


def unzip(pairs):
    return [p[0] for p in pairs], [p[1] for p in pairs]


FONT = 'Liberation Sans'
BLACK = '#000000'
RED = '#ff2a10'
BLUE1 = '#1f5aff'
BLUE2 = '#3a8ef5'

fig = go.Figure()

# panel 1
fig.add_trace(go.Scatter(x=P1_WN, y=P1_AERI, mode='lines', line=dict(color=BLACK, width=1.2),
                         xaxis='x', yaxis='y', name='AERI'))
fig.add_trace(go.Scatter(x=P1_WN, y=P1_LBL60, mode='lines', line=dict(color=RED, width=1.2),
                         xaxis='x', yaxis='y', name='LBL 60'))
fig.add_trace(go.Scatter(x=P1_WN, y=P1_H2000, mode='lines', line=dict(color=BLUE1, width=1.2),
                         xaxis='x', yaxis='y', name='LBL 60 Hitran 2000'))

# panel 2
x, y = unzip(P2_H2000_DIFF)
fig.add_trace(go.Scatter(x=x, y=y, mode='lines', line=dict(color='#202020', width=1),
                         xaxis='x2', yaxis='y2'))
x, y = unzip(P2_LEVEL_DIFF)
fig.add_trace(go.Scatter(x=x, y=y, mode='lines', line=dict(color=BLUE2, width=1),
                         xaxis='x2', yaxis='y2'))

# panel 3
x, y = unzip(P3_FASCODE)
fig.add_trace(go.Scatter(x=x, y=y, mode='lines', line=dict(color=RED, width=1),
                         xaxis='x3', yaxis='y3'))
x, y = unzip(P3_LBLRTM)
fig.add_trace(go.Scatter(x=x, y=y, mode='lines', line=dict(color=BLACK, width=1.4),
                         xaxis='x3', yaxis='y3'))

XDOM = [0.1015, 0.9718]
tickfont = dict(family=FONT, size=13, color='black')


def xaxis(anchor):
    return dict(domain=XDOM, range=[520, 1000], anchor=anchor, tick0=0, dtick=100,
                ticks='inside', ticklen=10, tickwidth=1, tickcolor='black',
                showline=True, linecolor='black', linewidth=1, mirror='ticks',
                showgrid=False, zeroline=False, tickfont=tickfont, ticklabelstandoff=12,
                minor=dict(ticks='inside', ticklen=5, tickmode='linear', tick0=0, dtick=10,
                           tickcolor='black', showgrid=False))


def yaxis(anchor, dom, rng, **kw):
    d = dict(domain=dom, range=rng, anchor=anchor, ticks='inside', ticklen=10, tickwidth=1,
             tickcolor='black', showline=True, linecolor='black', linewidth=1, mirror='ticks',
             showgrid=False, zeroline=False, tickfont=tickfont, ticklabelstandoff=3)
    d.update(kw)
    return d


fig.update_layout(
    width=657, height=1044, margin=dict(l=0, r=0, t=0, b=0),
    paper_bgcolor='white', plot_bgcolor='white', showlegend=False,
    font=dict(family=FONT, color='black'),
    xaxis=xaxis('y'), xaxis2=xaxis('y2'), xaxis3=xaxis('y3'),
    yaxis=yaxis('x', [0.7244, 0.9694], [0, 170], tick0=0, dtick=50,
                minor=dict(ticks='inside', ticklen=5, tickmode='linear', tick0=0, dtick=10,
                           tickcolor='black', showgrid=False)),
    yaxis2=yaxis('x2', [0.3870, 0.6306], [-7, 7], tickmode='array', tickvals=Y_DIFF_TICKS,
                 ticktext=Y_DIFF_TEXT,
                 minor=dict(ticks='inside', ticklen=5, tickmode='linear', tick0=0, dtick=0.5,
                            tickcolor='black', showgrid=False)),
    yaxis3=yaxis('x3', [0.0491, 0.2931], [-7, 7], tickmode='array', tickvals=Y_DIFF_TICKS,
                 ticktext=Y_DIFF_TEXT,
                 minor=dict(ticks='inside', ticklen=5, tickmode='linear', tick0=0, dtick=0.5,
                            tickcolor='black', showgrid=False)),
)

W, H = 657.0, 1044.0


def px(xp):
    return xp / W


def py(yp):
    return 1 - yp / H


ann = []


def text(s, xp, yp, size, color='black', xanchor='center', angle=0, bold=False):
    ann.append(dict(text=('<b>%s</b>' % s) if bold else s, x=px(xp), y=py(yp), xref='paper',
                    yref='paper', showarrow=False, xanchor=xanchor, yanchor='middle',
                    textangle=angle, font=dict(family=FONT, size=size, color=color)))


cx = (66.7 + 638.5) / 2
text('OBSERVATION AND CALCULATION', cx, 17, 17)
text('LBL60 - LBL60 Hitran 2000 (Black), LBL50 - LBL60 (Blue)', cx, 371.7, 17)
text('AERI - FAST MODEL', cx, 723, 17)
for yp in (330, 681, 1035):
    text('Wavenumber', cx, yp, 14)
text('Radiance', 19, 160, 14, angle=-90)
text('Radiance', 29, 513, 14, angle=-90)
text('Radiance', 29, 866, 14, angle=-90)

text('19991006 0530 UTC', 103.3, 207.7, 14, xanchor='left')

# legend of panel 1
for label, col, ty, ly in (('AERI', BLACK, 74, 77.3), ('LBL 60', RED, 89.3, 92.3),
                           ('LBL 60 Hitran 2000', BLUE1, 104, 107.7)):
    text(label, 532.7, ty, 11, color=col, xanchor='left')
    fig.add_shape(type='line', xref='paper', yref='paper', x0=px(460.7), x1=px(520),
                  y0=py(ly), y1=py(ly), line=dict(color=col, width=1))

# panel 2 annotations
text('50-level model', 348.3, 431.7, 20, xanchor='left', bold=True)
text('60-level model', 348.3, 455, 20, xanchor='left', bold=True)
for tx, ty, ax, ay in ((700.4, 2.44, 50.6, -35.6), (680.1, 0.47, 78.4, -48.3)):
    ann.append(dict(text='', x=tx, y=ty, xref='x2', yref='y2', ax=ax, ay=ay, showarrow=True,
                    arrowhead=2, arrowsize=3.8, arrowwidth=1.5, arrowcolor='black', standoff=0))

# panel 3 labels
text('FASCODE 50 Hitran 1992', 163.3, 752.7, 14, color=RED, xanchor='left')
text('LBLRTM 60 Hitran 2000', 163.3, 770.7, 14, xanchor='left')

fig.update_layout(annotations=ann)

# zero reference lines
for xr, yr in (('x2 domain', 'y2'), ('x3 domain', 'y3')):
    fig.add_shape(type='line', xref=xr, yref=yr, x0=0, x1=1, y0=0, y1=0,
                  line=dict(color='black', width=1.5), layer='above')

fig.write_html('out.html')
